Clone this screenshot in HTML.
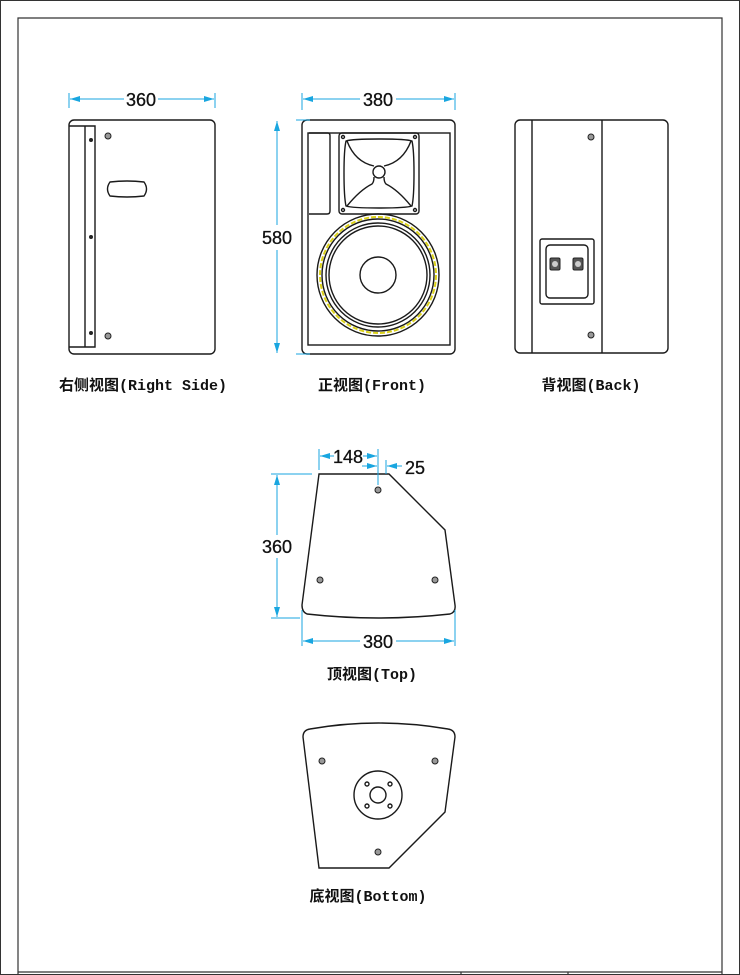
<!DOCTYPE html>
<html><head><meta charset="utf-8"><style>
html,body{margin:0;padding:0;background:#fff;}
svg{display:block;}
.l{fill:none;stroke:#1a1a1a;stroke-width:1.4;}
.d{stroke:#19a6e0;stroke-width:1;fill:none;}
.dt{font-family:"Liberation Sans",sans-serif;font-size:18px;fill:#111;text-anchor:middle;stroke:#111;stroke-width:0.3;}
.lb{font-family:"Liberation Mono","Noto Sans CJK SC",monospace;font-size:15px;font-weight:bold;fill:#111;text-anchor:middle;}
.h{fill:#999;stroke:#222;stroke-width:1;}
</style></head><body>
<svg width="740" height="975" viewBox="0 0 740 975" xmlns="http://www.w3.org/2000/svg">
<defs>
<marker id="a" markerWidth="10" markerHeight="6" refX="10" refY="3" orient="auto-start-reverse" markerUnits="userSpaceOnUse"><path d="M0,0 L10,3 L0,6 z" fill="#19a6e0"/></marker>
</defs>
<rect x="0.5" y="0.5" width="739" height="974" fill="none" stroke="#333"/>
<path d="M18,975 V18 H722 V975" fill="none" stroke="#333" stroke-width="1.2"/>
<path d="M18,972 H722 M461,972 V975 M568,972 V975" stroke="#333" stroke-width="1.2"/>

<!-- Right side view -->
<rect class="l" x="69" y="120" width="146" height="234" rx="5"/>
<path class="l" d="M69,126 H95 V347 H69 M85,126 V347"/>
<circle cx="91" cy="140" r="2" fill="#222"/><circle cx="91" cy="237" r="2" fill="#222"/><circle cx="91" cy="333" r="2" fill="#222"/>
<circle class="h" cx="108" cy="136" r="3"/><circle class="h" cx="108" cy="336" r="3"/>
<path class="l" d="M110,182 Q127,180 144,182 Q149,189 144,196 Q127,198 110,196 Q105,189 110,182 z"/>
<path class="d" d="M69,93 V108 M215,93 V108"/>
<line class="d" x1="70" y1="99" x2="124" y2="99" marker-start="url(#a)"/>
<line class="d" x1="158" y1="99" x2="214" y2="99" marker-end="url(#a)"/>
<text class="dt" x="141" y="106">360</text>
<text class="lb" x="143" y="390">右侧视图(Right Side)</text>

<!-- Front view -->
<rect class="l" x="302" y="120" width="153" height="234" rx="5"/>
<rect class="l" x="308" y="133" width="142" height="212"/>
<path class="l" d="M309,133 H328 Q330,133 330,136 V211 Q330,214 327,214 H309"/>
<rect class="l" x="339" y="133" width="80" height="81" rx="3"/>
<path class="l" d="M346,141 Q352,139 379,139 Q406,139 412,141 Q414,150 414,173 Q414,197 412,206 Q406,208 379,208 Q352,208 346,206 Q344,197 344,173 Q344,150 346,141 z"/>
<path class="l" d="M347,141 Q355,162 374,166 M411,141 Q403,162 384,166 M347,206 Q360,190 372,184 Q374,182 374,177 M411,206 Q398,190 386,184 Q384,182 384,177"/>
<circle class="l" cx="379" cy="172" r="6"/>
<circle cx="343" cy="137" r="1.5" class="l"/><circle cx="415" cy="137" r="1.5" class="l"/><circle cx="343" cy="210" r="1.5" class="l"/><circle cx="415" cy="210" r="1.5" class="l"/>
<circle class="l" cx="378" cy="275" r="61"/>
<circle cx="378" cy="275" r="58" fill="none" stroke="#dcd21a" stroke-width="2" stroke-dasharray="5,2"/>
<circle class="l" cx="378" cy="275" r="56"/>
<circle class="l" cx="378" cy="275" r="52"/>
<circle class="l" cx="378" cy="275" r="49"/>
<circle class="l" cx="378" cy="275" r="18"/>
<path class="d" d="M296,120 H310 M296,354 H310 M302,93 V110 M455,93 V110"/>
<line class="d" x1="303" y1="99" x2="360" y2="99" marker-start="url(#a)"/>
<line class="d" x1="396" y1="99" x2="454" y2="99" marker-end="url(#a)"/>
<text class="dt" x="378" y="106">380</text>
<line class="d" x1="277" y1="121" x2="277" y2="225" marker-start="url(#a)"/>
<line class="d" x1="277" y1="250" x2="277" y2="353" marker-end="url(#a)"/>
<text class="dt" x="277" y="244">580</text>
<text class="lb" x="372" y="390">正视图(Front)</text>

<!-- Back view -->
<rect class="l" x="515" y="120" width="153" height="233" rx="5"/>
<path class="l" d="M532,120 V353 M602,120 V353"/>
<circle class="h" cx="591" cy="137" r="3"/><circle class="h" cx="591" cy="335" r="3"/>
<rect class="l" x="540" y="239" width="54" height="65" rx="2"/>
<rect class="l" x="546" y="245" width="42" height="53" rx="4"/>
<rect x="550" y="258" width="10" height="12" rx="1.5" fill="#555" stroke="#222"/>
<rect x="573" y="258" width="10" height="12" rx="1.5" fill="#555" stroke="#222"/>
<circle cx="555" cy="264" r="3" fill="#ccc"/><circle cx="578" cy="264" r="3" fill="#ccc"/>
<text class="lb" x="591" y="390">背视图(Back)</text>

<!-- Top view -->
<path class="l" d="M319,474 H389 L445,530 L455,605 Q456,612 450,614 Q378,622 307,614 Q302,612 302,605 L319,474 z"/>
<circle class="h" cx="378" cy="490" r="3"/><circle class="h" cx="320" cy="580" r="3"/><circle class="h" cx="435" cy="580" r="3"/>
<path class="d" d="M319,449 V470 M378,449 V485 M386,460 V474 M271,474 H312 M271,618 H300 M302,610 V646 M455,610 V646"/>
<line class="d" x1="320" y1="456" x2="334" y2="456" marker-start="url(#a)"/>
<line class="d" x1="363" y1="456" x2="377" y2="456" marker-end="url(#a)"/>
<text class="dt" x="348" y="463">148</text>
<line class="d" x1="362" y1="466" x2="377" y2="466" marker-end="url(#a)"/>
<line class="d" x1="387" y1="466" x2="402" y2="466" marker-start="url(#a)"/>
<text class="dt" x="415" y="474">25</text>
<line class="d" x1="277" y1="475" x2="277" y2="535" marker-start="url(#a)"/>
<line class="d" x1="277" y1="558" x2="277" y2="617" marker-end="url(#a)"/>
<text class="dt" x="277" y="553">360</text>
<line class="d" x1="303" y1="641" x2="360" y2="641" marker-start="url(#a)"/>
<line class="d" x1="396" y1="641" x2="454" y2="641" marker-end="url(#a)"/>
<text class="dt" x="378" y="648">380</text>
<text class="lb" x="372" y="679">顶视图(Top)</text>

<!-- Bottom view -->
<path class="l" d="M303,737 Q303,730 310,729 Q378,717 448,729 Q455,730 455,737 L445,812 L389,868 H319 L303,737 z"/>
<circle class="h" cx="322" cy="761" r="3"/><circle class="h" cx="435" cy="761" r="3"/><circle class="h" cx="378" cy="852" r="3"/>
<circle class="l" cx="378" cy="795" r="24"/>
<circle class="l" cx="378" cy="795" r="8"/>
<circle class="l" cx="367" cy="784" r="2"/><circle class="l" cx="390" cy="784" r="2"/><circle class="l" cx="367" cy="806" r="2"/><circle class="l" cx="390" cy="806" r="2"/>
<text class="lb" x="368" y="901">底视图(Bottom)</text>
</svg>
</body></html>
